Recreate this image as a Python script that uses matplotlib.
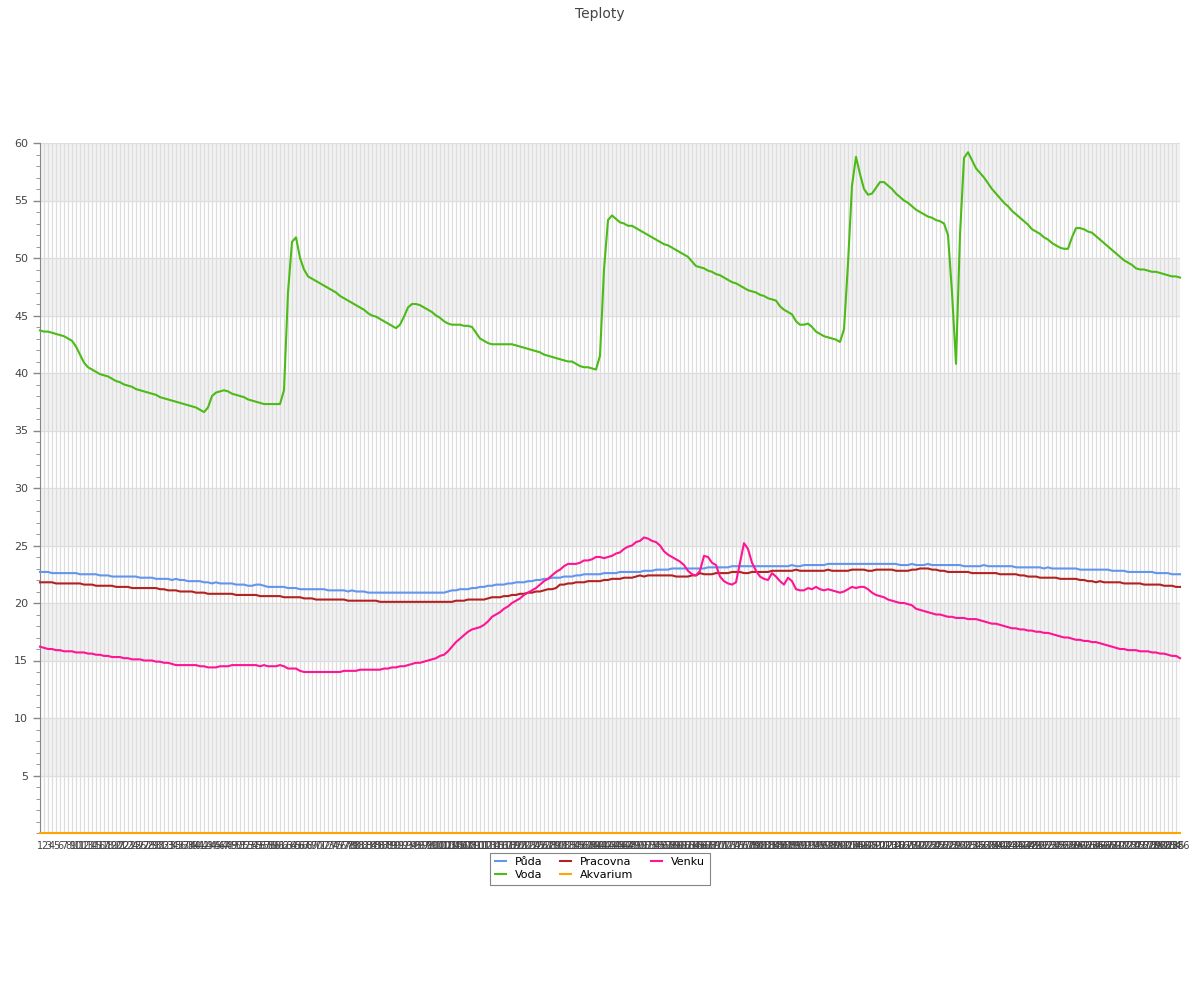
import numpy as np
import matplotlib
matplotlib.use("Agg")
import matplotlib.pyplot as plt

# readings, one value per sample
puda = [
    22.7, 22.7, 22.7, 22.6, 22.6, 22.6, 22.6, 22.6, 22.6, 22.6,
    22.5, 22.5, 22.5, 22.5, 22.5, 22.4, 22.4, 22.4, 22.3, 22.3,
    22.3, 22.3, 22.3, 22.3, 22.3, 22.2, 22.2, 22.2, 22.2, 22.1,
    22.1, 22.1, 22.1, 22.0, 22.1, 22.0, 22.0, 21.9, 21.9, 21.9,
    21.9, 21.8, 21.8, 21.7, 21.8, 21.7, 21.7, 21.7, 21.7, 21.6,
    21.6, 21.6, 21.5, 21.5, 21.6, 21.6, 21.5, 21.4, 21.4, 21.4,
    21.4, 21.4, 21.3, 21.3, 21.3, 21.2, 21.2, 21.2, 21.2, 21.2,
    21.2, 21.2, 21.1, 21.1, 21.1, 21.1, 21.1, 21.0, 21.1, 21.0,
    21.0, 21.0, 20.9, 20.9, 20.9, 20.9, 20.9, 20.9, 20.9, 20.9,
    20.9, 20.9, 20.9, 20.9, 20.9, 20.9, 20.9, 20.9, 20.9, 20.9,
    20.9, 20.9, 21.0, 21.1, 21.1, 21.2, 21.2, 21.2, 21.3, 21.3,
    21.4, 21.4, 21.5, 21.5, 21.6, 21.6, 21.6, 21.7, 21.7, 21.8,
    21.8, 21.8, 21.9, 21.9, 22.0, 22.0, 22.1, 22.1, 22.2, 22.2,
    22.2, 22.3, 22.3, 22.3, 22.4, 22.4, 22.5, 22.5, 22.5, 22.5,
    22.5, 22.6, 22.6, 22.6, 22.6, 22.7, 22.7, 22.7, 22.7, 22.7,
    22.7, 22.8, 22.8, 22.8, 22.9, 22.9, 22.9, 22.9, 23.0, 23.0,
    23.0, 23.0, 23.0, 23.0, 23.0, 23.0, 23.0, 23.1, 23.1, 23.1,
    23.1, 23.1, 23.1, 23.2, 23.2, 23.2, 23.2, 23.2, 23.2, 23.2,
    23.2, 23.2, 23.2, 23.2, 23.2, 23.2, 23.2, 23.2, 23.3, 23.2,
    23.2, 23.3, 23.3, 23.3, 23.3, 23.3, 23.3, 23.4, 23.4, 23.4,
    23.4, 23.4, 23.4, 23.4, 23.4, 23.4, 23.4, 23.4, 23.4, 23.4,
    23.4, 23.4, 23.4, 23.4, 23.4, 23.3, 23.3, 23.3, 23.4, 23.3,
    23.3, 23.3, 23.4, 23.3, 23.3, 23.3, 23.3, 23.3, 23.3, 23.3,
    23.3, 23.2, 23.2, 23.2, 23.2, 23.2, 23.3, 23.2, 23.2, 23.2,
    23.2, 23.2, 23.2, 23.2, 23.1, 23.1, 23.1, 23.1, 23.1, 23.1,
    23.1, 23.0, 23.1, 23.0, 23.0, 23.0, 23.0, 23.0, 23.0, 23.0,
    22.9, 22.9, 22.9, 22.9, 22.9, 22.9, 22.9, 22.9, 22.8, 22.8,
    22.8, 22.8, 22.7, 22.7, 22.7, 22.7, 22.7, 22.7, 22.7, 22.6,
    22.6, 22.6, 22.6, 22.5, 22.5, 22.5,
]

voda = [
    43.7, 43.6, 43.6, 43.5, 43.4, 43.3, 43.2, 43.0, 42.8, 42.3,
    41.6, 40.9, 40.5, 40.3, 40.1, 39.9, 39.8, 39.7, 39.5, 39.3,
    39.2, 39.0, 38.9, 38.8, 38.6, 38.5, 38.4, 38.3, 38.2, 38.1,
    37.9, 37.8, 37.7, 37.6, 37.5, 37.4, 37.3, 37.2, 37.1, 37.0,
    36.8, 36.6, 37.0, 38.0, 38.3, 38.4, 38.5, 38.4, 38.2, 38.1,
    38.0, 37.9, 37.7, 37.6, 37.5, 37.4, 37.3, 37.3, 37.3, 37.3,
    37.3, 38.5, 47.0, 51.4, 51.8, 50.0, 49.0, 48.4, 48.2, 48.0,
    47.8, 47.6, 47.4, 47.2, 47.0, 46.7, 46.5, 46.3, 46.1, 45.9,
    45.7, 45.5, 45.2, 45.0, 44.9, 44.7, 44.5, 44.3, 44.1, 43.9,
    44.2, 44.9, 45.7, 46.0, 46.0, 45.9, 45.7, 45.5, 45.3, 45.0,
    44.8, 44.5, 44.3, 44.2, 44.2, 44.2, 44.1, 44.1, 44.0, 43.5,
    43.0, 42.8, 42.6, 42.5, 42.5, 42.5, 42.5, 42.5, 42.5, 42.4,
    42.3, 42.2, 42.1, 42.0, 41.9, 41.8, 41.6, 41.5, 41.4, 41.3,
    41.2, 41.1, 41.0, 41.0, 40.8, 40.6, 40.5, 40.5, 40.4, 40.3,
    41.5, 49.0, 53.3, 53.7, 53.4, 53.1, 53.0, 52.8, 52.8, 52.6,
    52.4, 52.2, 52.0, 51.8, 51.6, 51.4, 51.2, 51.1, 50.9, 50.7,
    50.5, 50.3, 50.1, 49.7, 49.3, 49.2, 49.1, 48.9, 48.8, 48.6,
    48.5, 48.3, 48.1, 47.9, 47.8, 47.6, 47.4, 47.2, 47.1, 47.0,
    46.8, 46.7, 46.5, 46.4, 46.3, 45.8, 45.5, 45.3, 45.1, 44.5,
    44.2, 44.2, 44.3, 44.0, 43.6, 43.4, 43.2, 43.1, 43.0, 42.9,
    42.7, 43.8, 49.5, 56.3, 58.8, 57.3, 56.0, 55.5, 55.6, 56.1,
    56.6, 56.6, 56.3, 56.0, 55.6, 55.3, 55.0, 54.8, 54.5, 54.2,
    54.0, 53.8, 53.6, 53.5, 53.3, 53.2, 53.0, 52.0, 47.0, 40.8,
    52.0, 58.7, 59.2, 58.5, 57.8, 57.4, 57.0, 56.5, 56.0, 55.6,
    55.2, 54.8, 54.5, 54.1, 53.8, 53.5, 53.2, 52.9, 52.5, 52.3,
    52.1, 51.8, 51.6, 51.3, 51.1, 50.9, 50.8, 50.8, 51.8, 52.6,
    52.6, 52.5, 52.3, 52.2, 51.9, 51.6, 51.3, 51.0, 50.7, 50.4,
    50.1, 49.8, 49.6, 49.4, 49.1, 49.0, 49.0, 48.9, 48.8, 48.8,
    48.7, 48.6, 48.5, 48.4, 48.4, 48.3,
]

pracovna = [
    21.8, 21.8, 21.8, 21.8, 21.7, 21.7, 21.7, 21.7, 21.7, 21.7,
    21.7, 21.6, 21.6, 21.6, 21.5, 21.5, 21.5, 21.5, 21.5, 21.4,
    21.4, 21.4, 21.4, 21.3, 21.3, 21.3, 21.3, 21.3, 21.3, 21.3,
    21.2, 21.2, 21.1, 21.1, 21.1, 21.0, 21.0, 21.0, 21.0, 20.9,
    20.9, 20.9, 20.8, 20.8, 20.8, 20.8, 20.8, 20.8, 20.8, 20.7,
    20.7, 20.7, 20.7, 20.7, 20.7, 20.6, 20.6, 20.6, 20.6, 20.6,
    20.6, 20.5, 20.5, 20.5, 20.5, 20.5, 20.4, 20.4, 20.4, 20.3,
    20.3, 20.3, 20.3, 20.3, 20.3, 20.3, 20.3, 20.2, 20.2, 20.2,
    20.2, 20.2, 20.2, 20.2, 20.2, 20.1, 20.1, 20.1, 20.1, 20.1,
    20.1, 20.1, 20.1, 20.1, 20.1, 20.1, 20.1, 20.1, 20.1, 20.1,
    20.1, 20.1, 20.1, 20.1, 20.2, 20.2, 20.2, 20.3, 20.3, 20.3,
    20.3, 20.3, 20.4, 20.5, 20.5, 20.5, 20.6, 20.6, 20.7, 20.7,
    20.8, 20.8, 20.9, 20.9, 21.0, 21.0, 21.1, 21.2, 21.2, 21.3,
    21.6, 21.6, 21.7, 21.7, 21.8, 21.8, 21.8, 21.9, 21.9, 21.9,
    21.9, 22.0, 22.0, 22.1, 22.1, 22.1, 22.2, 22.2, 22.2, 22.3,
    22.4, 22.3, 22.4, 22.4, 22.4, 22.4, 22.4, 22.4, 22.4, 22.3,
    22.3, 22.3, 22.3, 22.4, 22.4, 22.6, 22.5, 22.5, 22.5, 22.6,
    22.6, 22.6, 22.6, 22.7, 22.7, 22.7, 22.6, 22.6, 22.7, 22.7,
    22.7, 22.7, 22.7, 22.8, 22.8, 22.8, 22.8, 22.8, 22.8, 22.9,
    22.8, 22.8, 22.8, 22.8, 22.8, 22.8, 22.8, 22.9, 22.8, 22.8,
    22.8, 22.8, 22.8, 22.9, 22.9, 22.9, 22.9, 22.8, 22.8, 22.9,
    22.9, 22.9, 22.9, 22.9, 22.8, 22.8, 22.8, 22.8, 22.9, 22.9,
    23.0, 23.0, 23.0, 22.9, 22.9, 22.8, 22.8, 22.7, 22.7, 22.7,
    22.7, 22.7, 22.7, 22.6, 22.6, 22.6, 22.6, 22.6, 22.6, 22.6,
    22.5, 22.5, 22.5, 22.5, 22.5, 22.4, 22.4, 22.3, 22.3, 22.3,
    22.2, 22.2, 22.2, 22.2, 22.2, 22.1, 22.1, 22.1, 22.1, 22.1,
    22.0, 22.0, 21.9, 21.9, 21.8, 21.9, 21.8, 21.8, 21.8, 21.8,
    21.8, 21.7, 21.7, 21.7, 21.7, 21.7, 21.6, 21.6, 21.6, 21.6,
    21.6, 21.5, 21.5, 21.5, 21.4, 21.4,
]

venku = [
    16.2, 16.1, 16.0, 16.0, 15.9, 15.9, 15.8, 15.8, 15.8, 15.7,
    15.7, 15.7, 15.6, 15.6, 15.5, 15.5, 15.4, 15.4, 15.3, 15.3,
    15.3, 15.2, 15.2, 15.1, 15.1, 15.1, 15.0, 15.0, 15.0, 14.9,
    14.9, 14.8, 14.8, 14.7, 14.6, 14.6, 14.6, 14.6, 14.6, 14.6,
    14.5, 14.5, 14.4, 14.4, 14.4, 14.5, 14.5, 14.5, 14.6, 14.6,
    14.6, 14.6, 14.6, 14.6, 14.6, 14.5, 14.6, 14.5, 14.5, 14.5,
    14.6, 14.5, 14.3, 14.3, 14.3, 14.1, 14.0, 14.0, 14.0, 14.0,
    14.0, 14.0, 14.0, 14.0, 14.0, 14.0, 14.1, 14.1, 14.1, 14.1,
    14.2, 14.2, 14.2, 14.2, 14.2, 14.2, 14.3, 14.3, 14.4, 14.4,
    14.5, 14.5, 14.6, 14.7, 14.8, 14.8, 14.9, 15.0, 15.1, 15.2,
    15.4, 15.5, 15.8, 16.2, 16.6, 16.9, 17.2, 17.5, 17.7, 17.8,
    17.9, 18.1, 18.4, 18.8, 19.0, 19.2, 19.5, 19.7, 20.0, 20.2,
    20.4, 20.7, 20.9, 21.1, 21.3, 21.6, 21.9, 22.1, 22.4, 22.7,
    22.9, 23.2, 23.4, 23.4, 23.4, 23.5, 23.7, 23.7, 23.8, 24.0,
    24.0, 23.9, 24.0, 24.1, 24.3, 24.4, 24.7, 24.9, 25.0, 25.3,
    25.4, 25.7, 25.6, 25.4, 25.3, 25.0, 24.5, 24.2, 24.0, 23.8,
    23.6, 23.3, 22.8, 22.5, 22.4, 22.8, 24.1, 24.0, 23.5, 23.3,
    22.3, 21.9, 21.7, 21.6, 21.8, 23.5, 25.2, 24.7, 23.5, 22.8,
    22.3, 22.1, 22.0, 22.6, 22.3, 21.9, 21.6, 22.2, 21.9, 21.2,
    21.1, 21.1, 21.3, 21.2, 21.4, 21.2, 21.1, 21.2, 21.1, 21.0,
    20.9, 21.0, 21.2, 21.4, 21.3, 21.4, 21.4, 21.2, 20.9, 20.7,
    20.6, 20.5, 20.3, 20.2, 20.1, 20.0, 20.0, 19.9, 19.8, 19.5,
    19.4, 19.3, 19.2, 19.1, 19.0, 19.0, 18.9, 18.8, 18.8, 18.7,
    18.7, 18.7, 18.6, 18.6, 18.6, 18.5, 18.4, 18.3, 18.2, 18.2,
    18.1, 18.0, 17.9, 17.8, 17.8, 17.7, 17.7, 17.6, 17.6, 17.5,
    17.5, 17.4, 17.4, 17.3, 17.2, 17.1, 17.0, 17.0, 16.9, 16.8,
    16.8, 16.7, 16.7, 16.6, 16.6, 16.5, 16.4, 16.3, 16.2, 16.1,
    16.0, 16.0, 15.9, 15.9, 15.9, 15.8, 15.8, 15.8, 15.7, 15.7,
    15.6, 15.6, 15.5, 15.4, 15.4, 15.2,
]

akvarium = [0.0] * len(puda)
labels = [str(i + 1) for i in range(len(puda))]

series = [
    ("Půda", puda, "#6495ed"),
    ("Voda", voda, "#4cbb17"),
    ("Pracovna", pracovna, "#b22222"),
    ("Akvarium", akvarium, "#ffa500"),
    ("Venku", venku, "#ff1493"),
]

fig = plt.figure(figsize=(12, 10), dpi=100)
ax = fig.add_axes([40 / 1200, 1 - 833 / 1000, 1140 / 1200, 690 / 1000])

x = np.arange(len(puda))

# alternating bands
for lo in range(0, 60, 10):
    ax.axhspan(lo + 5, lo + 10, color="#f2f2f2", zorder=0, lw=0)

for xi in x:
    ax.axvline(xi, color="#dddddd", lw=0.9, zorder=1)
for yv in range(5, 61, 5):
    ax.axhline(yv, color="#dddddd", lw=0.9, zorder=1)

for name, vals, col in series:
    ax.plot(x, vals, color=col, lw=1.5, label=name, zorder=3, clip_on=False)

ax.set_xlim(0, len(puda) - 1)
ax.set_ylim(0, 60)
ax.set_xticks(x)
ax.set_xticklabels(labels, fontsize=7, color="#444444")
ax.set_yticks(range(5, 61, 5))
ax.set_yticks(range(0, 61), minor=True)
ax.tick_params(axis="y", labelsize=8, colors="#444444", length=5, width=1, color="#888888")
ax.tick_params(axis="y", which="minor", length=3, color="#888888")
ax.tick_params(axis="x", length=0, pad=6)
for s in ["top", "right", "bottom"]:
    ax.spines[s].set_visible(False)
ax.spines["left"].set_color("#888888")

fig.suptitle("Teploty", y=0.993, fontsize=10, color="#444444")

leg = fig.legend(loc="upper center", bbox_to_anchor=(0.5, 0.153), ncol=3,
                 fontsize=8, handlelength=1.0, fancybox=False, edgecolor="#666666",
                 columnspacing=1.6, handletextpad=0.8, borderpad=0.4,
                 labelspacing=0.3)
leg.get_frame().set_linewidth(0.8)

fig.savefig("out.png", dpi=100)
